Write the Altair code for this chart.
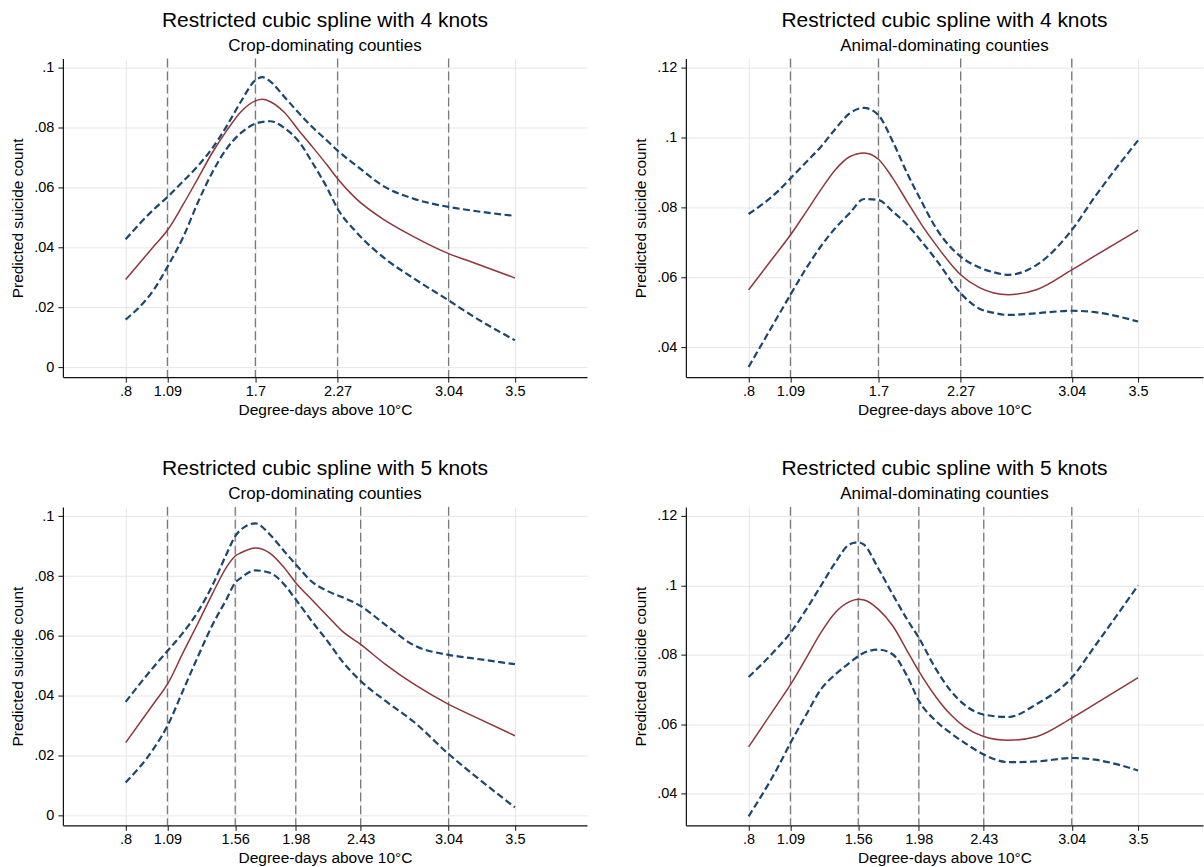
import altair as alt
import pandas as pd

FONT = "Liberation Sans"

# ---------------- data ----------------
# Top-left: 4 knots, crop-dominating counties
x_tl = [0.8, 1.0, 1.09, 1.2, 1.3, 1.4, 1.5, 1.6, 1.7, 1.75, 1.8, 1.9, 2.0, 2.1, 2.2, 2.27, 2.4, 2.6, 2.8, 3.04, 3.2, 3.5]
fit_tl = [0.0294, 0.0407, 0.0458, 0.0545, 0.0630, 0.0716, 0.0790, 0.0854, 0.0890, 0.0895, 0.0888, 0.0852, 0.0792, 0.0734, 0.0674, 0.0630, 0.0563, 0.0491, 0.0436, 0.0380, 0.0352, 0.0299]
hi_tl = [0.0428, 0.0530, 0.0569, 0.0622, 0.0672, 0.0731, 0.0805, 0.0888, 0.0959, 0.0969, 0.0956, 0.0904, 0.0850, 0.0800, 0.0756, 0.0724, 0.0674, 0.0602, 0.0563, 0.0536, 0.0524, 0.0506]
lo_tl = [0.0160, 0.0263, 0.0336, 0.0436, 0.0550, 0.0650, 0.0730, 0.0783, 0.0814, 0.0820, 0.0822, 0.0800, 0.0755, 0.0680, 0.0597, 0.0530, 0.0452, 0.0363, 0.0297, 0.0224, 0.0174, 0.0091]

# Top-right: 4 knots, animal-dominating counties
x_tr = [0.8, 1.0, 1.09, 1.2, 1.3, 1.4, 1.5, 1.6, 1.7, 1.8, 1.9, 2.0, 2.1, 2.27, 2.4, 2.5, 2.6, 2.8, 3.04, 3.2, 3.5]
fit_tr = [0.0564, 0.0672, 0.0721, 0.0788, 0.0850, 0.0907, 0.0945, 0.0956, 0.0938, 0.0883, 0.0816, 0.0750, 0.0692, 0.0607, 0.0570, 0.0555, 0.0550, 0.0565, 0.0621, 0.0661, 0.0735]
hi_tr = [0.0781, 0.0845, 0.0883, 0.0930, 0.0973, 0.1024, 0.1069, 0.1085, 0.1064, 0.0988, 0.0897, 0.0816, 0.0740, 0.0659, 0.0628, 0.0614, 0.0607, 0.0636, 0.0735, 0.0830, 0.0992]
lo_tr = [0.0343, 0.0486, 0.0550, 0.0626, 0.0688, 0.0740, 0.0783, 0.0824, 0.0821, 0.0788, 0.0750, 0.0702, 0.0650, 0.0554, 0.0510, 0.0498, 0.0492, 0.0497, 0.0504, 0.0500, 0.0473]

# Bottom-left: 5 knots, crop-dominating counties
x_bl = [0.8, 1.0, 1.09, 1.2, 1.3, 1.4, 1.5, 1.56, 1.6, 1.7, 1.8, 1.9, 1.98, 2.1, 2.2, 2.3, 2.43, 2.6, 2.8, 3.04, 3.2, 3.5]
fit_bl = [0.0244, 0.0378, 0.0439, 0.0546, 0.0641, 0.0739, 0.0830, 0.0867, 0.0878, 0.0894, 0.0877, 0.0828, 0.0778, 0.0717, 0.0667, 0.0617, 0.0572, 0.0506, 0.0439, 0.0372, 0.0335, 0.0267]
hi_bl = [0.0380, 0.0500, 0.0550, 0.0612, 0.0680, 0.0767, 0.0874, 0.0933, 0.0955, 0.0976, 0.0939, 0.0883, 0.0839, 0.0778, 0.0750, 0.0730, 0.0700, 0.0638, 0.0569, 0.0537, 0.0526, 0.0506]
lo_bl = [0.0111, 0.0228, 0.0300, 0.0420, 0.0530, 0.0635, 0.0723, 0.0778, 0.0794, 0.0819, 0.0811, 0.0772, 0.0722, 0.0644, 0.0583, 0.0517, 0.0450, 0.0384, 0.0313, 0.0206, 0.0142, 0.0028]

# Bottom-right: 5 knots, animal-dominating counties
x_br = [0.8, 1.0, 1.09, 1.2, 1.3, 1.4, 1.5, 1.56, 1.6, 1.7, 1.8, 1.9, 1.98, 2.1, 2.2, 2.3, 2.43, 2.6, 2.8, 3.04, 3.2, 3.5]
fit_br = [0.0535, 0.0658, 0.0714, 0.0791, 0.0863, 0.0921, 0.0953, 0.0960, 0.0958, 0.0931, 0.0883, 0.0811, 0.0753, 0.0678, 0.0628, 0.0592, 0.0565, 0.0554, 0.0565, 0.0618, 0.0658, 0.0734]
hi_br = [0.0736, 0.0820, 0.0863, 0.0931, 0.0998, 0.1065, 0.1118, 0.1124, 0.1117, 0.1048, 0.0973, 0.0901, 0.0849, 0.0758, 0.0697, 0.0655, 0.0628, 0.0621, 0.0659, 0.0734, 0.0825, 0.1000]
lo_br = [0.0335, 0.0474, 0.0546, 0.0628, 0.0700, 0.0743, 0.0777, 0.0796, 0.0806, 0.0815, 0.0801, 0.0738, 0.0668, 0.0609, 0.0575, 0.0546, 0.0513, 0.0491, 0.0493, 0.0503, 0.0498, 0.0467]

knots4 = [1.09, 1.7, 2.27, 3.04]
knots5 = [1.09, 1.56, 1.98, 2.43, 3.04]
xticks4 = [0.8, 1.09, 1.7, 2.27, 3.04, 3.5]
xticks5 = [0.8, 1.09, 1.56, 1.98, 2.43, 3.04, 3.5]
yticks_crop = [0, 0.02, 0.04, 0.06, 0.08, 0.1]
yticks_animal = [0.04, 0.06, 0.08, 0.1, 0.12]

title4 = "Restricted cubic spline with 4 knots"
title5 = "Restricted cubic spline with 5 knots"
sub_crop = "Crop-dominating counties"
sub_animal = "Animal-dominating counties"
x_title = "Degree-days above 10°C"
y_title = "Predicted suicide count"

NAVY = "#1a476f"
MAROON = "#90353b"
H = 319


def panel(title, subtitle, xs, fit, lo, hi, knots, xticks, yticks, ydom, xdom, width):
    n = len(xs)
    df = pd.DataFrame({
        "x": list(xs) * 3,
        "y": list(fit) + list(lo) + list(hi),
        "s": ["fit"] * n + ["lo"] * n + ["hi"] * n,
    })
    xscale = alt.Scale(domain=xdom, nice=False, zero=False)
    yscale = alt.Scale(domain=ydom, nice=False, zero=False)
    xaxis = alt.Axis(
        values=xticks, title=x_title, grid=True, labelOverlap=False, labelFlush=False,
        labelExpr="datum.value < 1 ? substring(format(datum.value, '~g'), 1) : format(datum.value, '~g')",
    )
    yaxis = alt.Axis(
        values=yticks, title=y_title, grid=True, labelOverlap=False, labelFlush=False,
        labelExpr="datum.value == 0 ? '0' : substring(format(datum.value, '.2~f'), 1)",
    )
    kn = alt.Chart(pd.DataFrame({"x": knots})).mark_rule(
        color="#7a7a7a", strokeDash=[9, 4], strokeWidth=1.3
    ).encode(x=alt.X("x:Q", scale=xscale, axis=xaxis))
    ci = alt.Chart(df).transform_filter("datum.s != 'fit'").mark_line(
        color=NAVY, strokeWidth=2.2, strokeDash=[7, 3.5], interpolate="monotone"
    ).encode(
        x=alt.X("x:Q", scale=xscale, axis=xaxis),
        y=alt.Y("y:Q", scale=yscale, axis=yaxis),
        detail="s:N",
    )
    ft = alt.Chart(df).transform_filter("datum.s == 'fit'").mark_line(
        color=MAROON, strokeWidth=1.5, interpolate="monotone"
    ).encode(
        x=alt.X("x:Q", scale=xscale, axis=xaxis),
        y=alt.Y("y:Q", scale=yscale, axis=yaxis),
    )
    return alt.layer(kn, ci, ft).properties(
        width=width, height=H,
        title=alt.TitleParams(
            text=title, subtitle=subtitle, anchor="middle", frame="group",
            font=FONT, fontSize=21, fontWeight="normal", color="black",
            subtitleFont=FONT, subtitleFontSize=17, subtitleColor="black",
            subtitlePadding=7, offset=4,
        ),
    )


XDOM_L = [0.365, 4.0]
XDOM_R = [0.365, 3.95]

tl = panel(title4, sub_crop, x_tl, fit_tl, lo_tl, hi_tl, knots4, xticks4, yticks_crop, [-0.0032, 0.1031], XDOM_L, 525)
tr = panel(title4, sub_animal, x_tr, fit_tr, lo_tr, hi_tr, knots4, xticks4, yticks_animal, [0.0314, 0.1226], XDOM_R, 518)
bl = panel(title5, sub_crop, x_bl, fit_bl, lo_bl, hi_bl, knots5, xticks5, yticks_crop, [-0.0032, 0.1031], XDOM_L, 525)
br = panel(title5, sub_animal, x_br, fit_br, lo_br, hi_br, knots5, xticks5, yticks_animal, [0.0309, 0.1226], XDOM_R, 518)

chart = alt.vconcat(
    alt.hconcat(tl, tr, spacing=45),
    alt.hconcat(bl, br, spacing=45),
    spacing=38,
).properties(
    padding={"left": 10, "top": 8, "right": 0, "bottom": 0},
    background="white",
).configure_view(
    stroke="transparent"
).configure_axis(
    labelFont=FONT, titleFont=FONT, labelFontSize=14.5, titleFontSize=15.5,
    titleFontWeight="normal", labelColor="black", titleColor="black",
    domainColor="#111111", domainWidth=1.2, tickColor="#111111", tickSize=5,
    gridColor="#e6e6e6", gridWidth=1,
).configure_axisX(
    labelPadding=2, titlePadding=5,
).configure_axisY(
    labelPadding=4, titlePadding=8,
)

chart.save("out.html", embed_options={"renderer": "svg", "actions": False})
